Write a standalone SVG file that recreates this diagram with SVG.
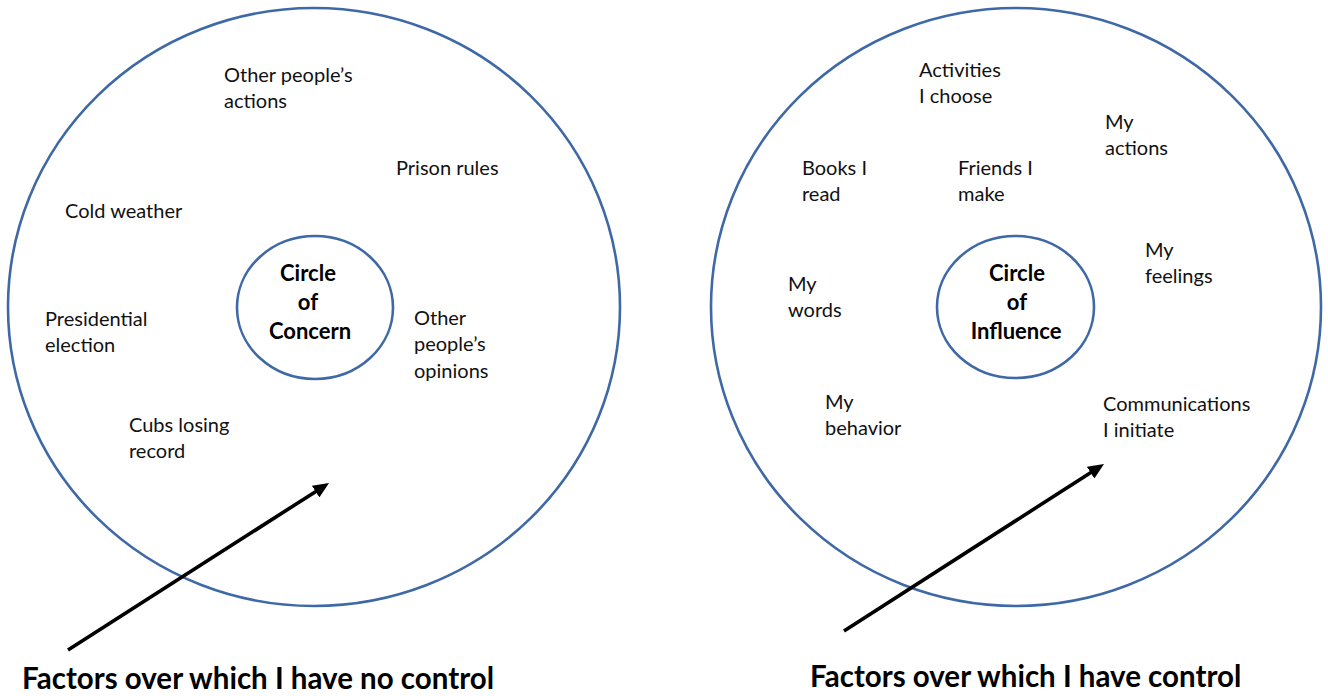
<svg xmlns="http://www.w3.org/2000/svg" width="1328" height="696" viewBox="0 0 1328 696">
  <style>
    .ring { fill: none; stroke: #3f69a6; stroke-width: 2.6; }
    .t { font-family: Lato, "Liberation Sans", sans-serif; font-size: 20px; fill: #111; }
    .c { font-family: Lato, "Liberation Sans", sans-serif; font-size: 22px; font-weight: bold; fill: #000; text-anchor: middle; }
    .lbl { font-family: Lato, "Liberation Sans", sans-serif; font-size: 29.5px; font-weight: bold; fill: #000; }
    .arrow { stroke: #000; stroke-width: 3.6; fill: none; marker-end: url(#head); }
  </style>
  <defs>
    <marker id="head" markerUnits="userSpaceOnUse" markerWidth="16" markerHeight="14" viewBox="0 0 16 14" refX="6" refY="7" orient="auto">
      <path d="M0,0 L16,7 L0,14 z" fill="#000"/>
    </marker>
  </defs>
  <rect width="1328" height="696" fill="#fff"/>

  <g id="circle-of-concern">
    <ellipse class="ring" cx="314" cy="307" rx="306" ry="299"/>
    <ellipse class="ring" cx="315" cy="307.5" rx="78" ry="71.5"/>
    <text class="c" x="308" y="281">Circle</text>
    <text class="c" x="308" y="310">of</text>
    <text class="c" x="310" y="339">Concern</text>
  </g>
  <g id="concern-items">
    <text class="t" x="224" y="82">Other people’s<tspan x="224" y="108">actions</tspan></text>
    <text class="t" x="396" y="175">Prison rules</text>
    <text class="t" x="65" y="218">Cold weather</text>
    <text class="t" x="45" y="326">Presidential<tspan x="45" y="352">election</tspan></text>
    <text class="t" x="414" y="325">Other<tspan x="414" y="351">people’s</tspan><tspan x="414" y="378">opinions</tspan></text>
    <text class="t" x="129" y="432">Cubs losing<tspan x="129" y="458">record</tspan></text>
  </g>

  <g id="circle-of-influence">
    <ellipse class="ring" cx="1016" cy="307" rx="305" ry="299"/>
    <ellipse class="ring" cx="1015.5" cy="307" rx="78.5" ry="71"/>
    <text class="c" x="1017" y="281">Circle</text>
    <text class="c" x="1017" y="310">of</text>
    <text class="c" x="1016" y="339">Influence</text>
  </g>
  <g id="influence-items">
    <text class="t" x="919" y="77">Activities<tspan x="919" y="103">I choose</tspan></text>
    <text class="t" x="1105" y="129">My<tspan x="1105" y="155">actions</tspan></text>
    <text class="t" x="802" y="175">Books I<tspan x="802" y="201">read</tspan></text>
    <text class="t" x="958" y="175">Friends I<tspan x="958" y="201">make</tspan></text>
    <text class="t" x="1145" y="257">My<tspan x="1145" y="283">feelings</tspan></text>
    <text class="t" x="788" y="291">My<tspan x="788" y="317">words</tspan></text>
    <text class="t" x="825" y="409">My<tspan x="825" y="435">behavior</tspan></text>
    <text class="t" x="1103" y="411">Communications<tspan x="1103" y="437">I initiate</tspan></text>
  </g>

  <g id="connectors">
    <line class="arrow" x1="68" y1="650" x2="320.6" y2="488.4"/>
    <line class="arrow" x1="844" y1="631" x2="1095.6" y2="469.4"/>
  </g>

  <g id="label-no-control">
    <text class="lbl" x="22" y="689">Factors over which I have no control</text>
  </g>
  <g id="label-control">
    <text class="lbl" x="810" y="687">Factors over which I have control</text>
  </g>
</svg>
